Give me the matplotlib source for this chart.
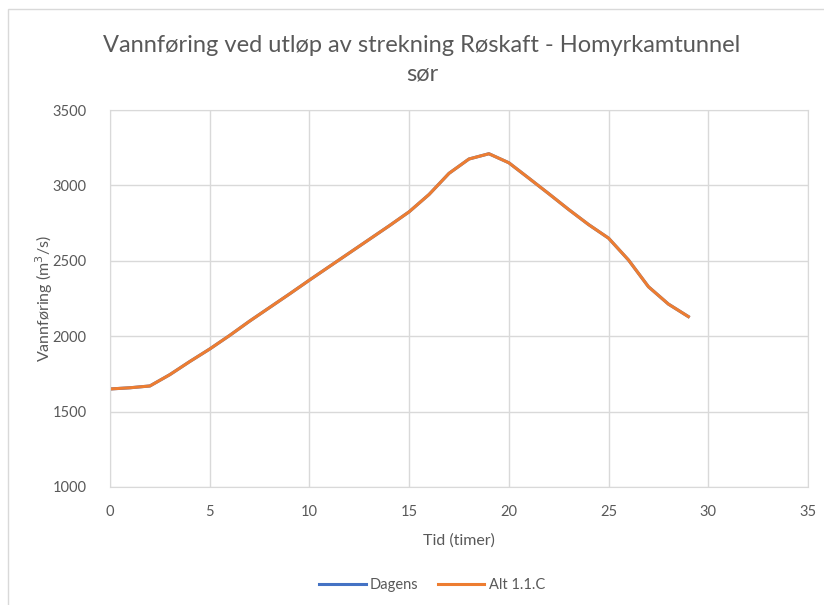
import matplotlib
matplotlib.use("Agg")
import matplotlib.pyplot as plt
from matplotlib.patches import Rectangle

# --- Data ---
tid = [0, 1, 2, 3, 4, 5, 6, 7, 8, 9, 10, 11, 12, 13, 14, 15, 16, 17, 18, 19,
       20, 21, 22, 23, 24, 25, 26, 27, 28, 29]
dagens = [1650, 1658, 1670, 1745, 1832, 1915, 2005, 2100, 2190, 2280, 2372,
          2462, 2552, 2642, 2732, 2825, 2940, 3080, 3175, 3210, 3150, 3048,
          2945, 2840, 2740, 2650, 2505, 2328, 2213, 2130]
alt_11c = [1650, 1658, 1670, 1745, 1832, 1915, 2005, 2100, 2190, 2280, 2372,
           2462, 2552, 2642, 2732, 2825, 2940, 3080, 3175, 3210, 3150, 3048,
           2945, 2840, 2740, 2650, 2505, 2328, 2213, 2130]

plt.rcParams['font.family'] = ['Lato', 'DejaVu Sans']
tekst = '#595959'
grid = '#d9d9d9'

fig = plt.figure(figsize=(8.24, 6.05), dpi=100)
# ramme rundt diagrammet
fig.patches.append(Rectangle((8 / 824, -0.01), 1.02, 1 - 9 / 605 + 0.01,
                             transform=fig.transFigure, fill=False,
                             edgecolor=grid, linewidth=1))

ax = fig.add_axes([110 / 824, 1 - 487 / 605, 698 / 824, 377 / 605])
ax.plot(tid, dagens, color='#4472c4', linewidth=2.2, label='Dagens')
ax.plot(tid, alt_11c, color='#ed7d31', linewidth=2.2, label='Alt 1.1.C')

ax.set_xlim(0, 35)
ax.set_ylim(1000, 3500)
ax.set_xticks(range(0, 36, 5))
ax.set_yticks(range(1000, 3501, 500))
ax.grid(True, color=grid, linewidth=1)
ax.set_axisbelow(True)
for s in ax.spines.values():
    s.set_color(grid)
ax.tick_params(length=0, colors=tekst, labelsize=10.5)
ax.tick_params(axis='y', pad=17)
ax.tick_params(axis='x', pad=13)

ax.set_xlabel('Tid (timer)', color=tekst, fontsize=11.5, labelpad=10)
ax.set_ylabel('Vannføring (m$^3$/s)', color=tekst, fontsize=11.5, labelpad=-2)

fig.text(0.512, 1 - 46 / 605, 'Vannføring ved utløp av strekning Røskaft - Homyrkamtunnel',
         ha='center', va='center', fontsize=17, color=tekst)
fig.text(0.512, 1 - 74 / 605, 'sør', ha='center', va='center', fontsize=17, color=tekst)

fig.legend(loc='center', bbox_to_anchor=(432 / 824, 1 - 585 / 605), ncol=2,
           frameon=False, fontsize=10.5, labelcolor=tekst, handlelength=3.2,
           columnspacing=1.3, handletextpad=0.3)

fig.savefig('out.png', dpi=100)
